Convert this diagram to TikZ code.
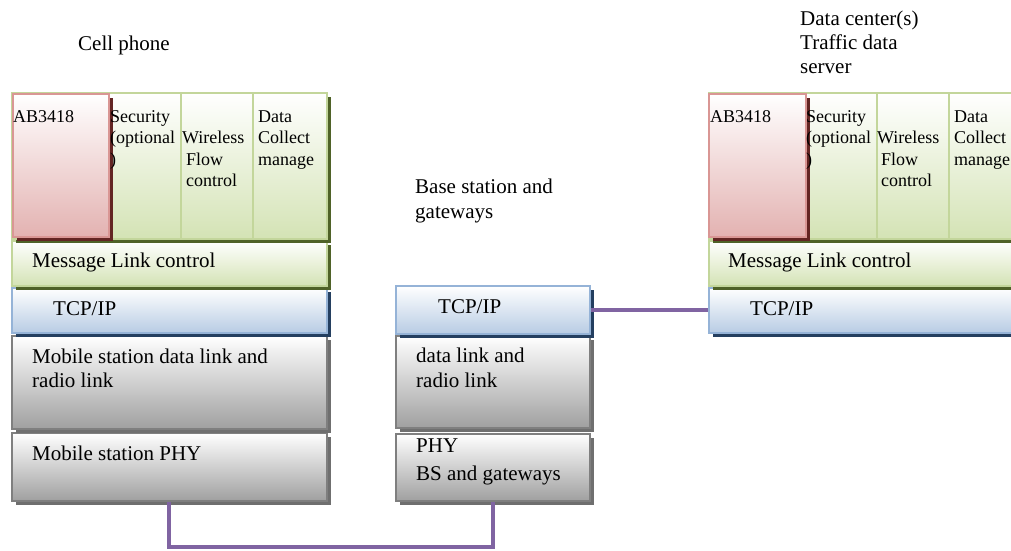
\documentclass[tikz,border=0pt]{standalone}
\usepackage{fontspec}
\setmainfont{Liberation Serif}
\usetikzlibrary{shadows}
\definecolor{grnB}{HTML}{C3D69B}
\definecolor{grnF}{HTML}{D4E3B5}
\definecolor{grnS}{HTML}{4F6228}
\definecolor{redB}{HTML}{D99694}
\definecolor{redF}{HTML}{E3B2B1}
\definecolor{redS}{HTML}{632523}
\definecolor{bluB}{HTML}{95B3D7}
\definecolor{bluF}{HTML}{B8CCE4}
\definecolor{bluS}{HTML}{243F60}
\definecolor{gryB}{HTML}{7F7F7F}
\definecolor{gryF}{HTML}{A0A0A0}
\definecolor{gryS}{HTML}{6F6F6F}
\definecolor{linkc}{HTML}{8064A2}
\tikzset{
  box/.style={rectangle, anchor=north west, inner sep=0pt, line width=1.5pt},
  grnbox/.style={box, draw=grnB, top color=white, bottom color=grnF,
    general shadow={shadow xshift=4pt, shadow yshift=-4pt, fill=grnS}},
  colbox/.style={box, draw=grnB, top color=white, bottom color=grnF},
  redbox/.style={box, draw=redB, top color=white, bottom color=redF,
    general shadow={shadow xshift=4pt, shadow yshift=-4pt, fill=redS}},
  blubox/.style={box, draw=bluB, top color=white, bottom color=bluF,
    general shadow={shadow xshift=4pt, shadow yshift=-4pt, fill=bluS}},
  grybox/.style={box, draw=gryB, top color=white, bottom color=gryF,
    general shadow={shadow xshift=4pt, shadow yshift=-4pt, fill=gryS}},
  % multi-line texts: the base anchor sits on the LAST line
  bigtxt/.style={anchor=base west, inner sep=0pt, align=left,
    font=\fontsize{21}{24.5}\selectfont},
  smalltxt/.style={anchor=base west, inner sep=0pt, align=left,
    font=\fontsize{18}{21.5}\selectfont},
  linkline/.style={draw=linkc, line width=4pt}
}
\begin{document}
\begin{tikzpicture}[x={(1pt,0)}, y={(0,-1pt)}]
\clip (0,0) rectangle (1011,550);
\path[use as bounding box] (0,0) rectangle (1011,550);

% ---------- left stack (cell phone) ----------
\node[grybox, minimum width=315pt, minimum height=68pt] (phyL) at (11,432) {};
\node[grybox, minimum width=315pt, minimum height=93pt] (dlkL) at (11,335) {};
\node[blubox, minimum width=315pt, minimum height=45pt] (tcpL) at (11,287) {};
\node[grnbox, minimum width=315pt, minimum height=45pt] (msgL) at (11,240) {};
\node[grnbox, minimum width=315pt, minimum height=146pt] (grpL) at (11,92) {};
\node[colbox, minimum width=72pt, minimum height=146pt] (secL) at (108,92) {};
\node[colbox, minimum width=72pt, minimum height=146pt] (wfcL) at (180,92) {};
\node[colbox, minimum width=74pt, minimum height=146pt] (dcmL) at (252,92) {};
\node[redbox, minimum width=96pt, minimum height=143pt] (abL) at (12,93) {};

\node[smalltxt] (abLt) at (13,122) {AB3418};
\node[smalltxt] (secLt) at (110,165) {Security\\(optional\\)};
\node[smalltxt] (wfcLt) at (182,186.5) {Wireless\\\hspace*{4pt}Flow\\\hspace*{4pt}control};
\node[smalltxt] (dcmLt) at (258,165) {Data\\Collect\\manage};
\node[bigtxt] (msgLt) at (32,267) {Message Link control};
\node[bigtxt] (tcpLt) at (53,315) {TCP/IP};
\node[bigtxt] (dlkLt) at (32,387.5) {Mobile station data link and\\radio link};
\node[bigtxt] (phyLt) at (32,460) {Mobile station PHY};
\node[bigtxt] (cellt) at (78,50) {Cell phone};

% ---------- middle stack (base station) ----------
\node[grybox, minimum width=194pt, minimum height=67pt] (phyM) at (395,433) {};
\node[grybox, minimum width=194pt, minimum height=92pt] (dlkM) at (395,335) {};
\node[blubox, minimum width=194pt, minimum height=48pt] (tcpM) at (395,285) {};

\node[bigtxt] (tcpMt) at (438,313) {TCP/IP};
\node[bigtxt] (dlkMt) at (416,387) {data link and\\radio link};
\node[bigtxt] (phyMt) at (416,480) {PHY\\[3.5pt]BS and gateways};
\node[bigtxt] (bst) at (415,218) {Base station and\\gateways};

% ---------- right stack (data center) ----------
\node[blubox, minimum width=315pt, minimum height=45pt] (tcpR) at (708,287) {};
\node[grnbox, minimum width=315pt, minimum height=45pt] (msgR) at (708,240) {};
\node[grnbox, minimum width=315pt, minimum height=146pt] (grpR) at (708,92) {};
\node[colbox, minimum width=71pt, minimum height=146pt] (secR) at (805,92) {};
\node[colbox, minimum width=72pt, minimum height=146pt] (wfcR) at (876,92) {};
\node[colbox, minimum width=75pt, minimum height=146pt] (dcmR) at (948,92) {};
\node[redbox, minimum width=97pt, minimum height=143pt] (abR) at (708,93) {};

\node[smalltxt] (abRt) at (710,122) {AB3418};
\node[smalltxt] (secRt) at (806,165) {Security\\(optional\\)};
\node[smalltxt] (wfcRt) at (877,186.5) {Wireless\\\hspace*{4pt}Flow\\\hspace*{4pt}control};
\node[smalltxt] (dcmRt) at (954,165) {Data\\Collect\\manage};
\node[bigtxt] (msgRt) at (728,267) {Message Link control};
\node[bigtxt] (tcpRt) at (750,315) {TCP/IP};
\node[bigtxt, font=\fontsize{21}{24}\selectfont] (dct) at (800,73) {Data center(s)\\Traffic data\\server};

% ---------- connectors ----------
\coordinate (busY) at (0,547);
\draw[linkline] (tcpM.east) -- (tcpM.east -| tcpR.west);
\draw[linkline] (phyL.south) -- (phyL.south |- busY) -| (phyM.south);
\end{tikzpicture}
\end{document}
